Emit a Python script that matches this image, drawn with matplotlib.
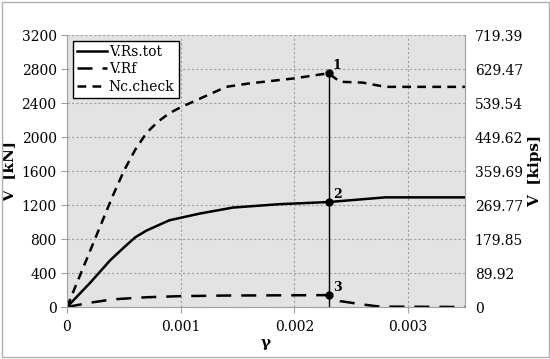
import matplotlib.pyplot as plt
from matplotlib.patches import Rectangle

# data
gam_nc = [0, 0.0002, 0.0004, 0.0005, 0.0006, 0.0007, 0.0008, 0.0009, 0.001, 0.0012,
          0.0014, 0.0016, 0.0018, 0.002, 0.0023, 0.00235, 0.0024, 0.0026, 0.0028, 0.0035]
v_nc = [0, 650, 1300, 1600, 1850, 2050, 2180, 2280, 2350, 2470,
        2590, 2630, 2660, 2690, 2750, 2700, 2650, 2640, 2590, 2590]

gam_rs = [0, 0.0002, 0.00038, 0.0005, 0.0006, 0.0007, 0.0009, 0.00117, 0.00146,
          0.00187, 0.0023, 0.0028, 0.0035]
v_rs = [0, 280, 550, 700, 820, 900, 1020, 1100, 1170, 1210, 1235, 1290, 1290]

gam_rf = [0, 0.0002, 0.0004, 0.0007, 0.001, 0.0014, 0.0023, 0.0024, 0.0026, 0.00275, 0.0035]
v_rf = [0, 50, 90, 115, 128, 135, 140, 70, 30, 5, 0]

pts_x = [0.0023, 0.0023, 0.0023]
pts_y = [2750, 1235, 140]
pts_lab = ['1', '2', '3']

kn_to_kips = 0.224809
yticks = [0, 400, 800, 1200, 1600, 2000, 2400, 2800, 3200]
xticks = [0, 0.001, 0.002, 0.003]

plt.rcParams['font.family'] = ['DejaVu Serif']
fig = plt.figure(figsize=(5.5, 3.59), dpi=100)
fig.patches.append(Rectangle((0.004, 0.006), 0.994, 0.988, transform=fig.transFigure,
                             fill=False, edgecolor='#b0b0b0', linewidth=1))
ax = fig.add_axes([0.1218, 0.1448, 0.7236, 0.7577])
ax.set_facecolor('#e3e3e3')

ax.plot(gam_rs, v_rs, color='black', lw=1.8, label='V.Rs.tot')
ax.plot(gam_rf, v_rf, color='black', lw=1.8, dashes=(6, 4), label='V.Rf')
ax.plot(gam_nc, v_nc, color='black', lw=1.8, dashes=(3.5, 2.5), label='Nc.check')
ax.plot([pts_x[0], pts_x[0]], [0, pts_y[0]], color='black', lw=1)
ax.plot(pts_x, pts_y, 'o', color='black', ms=5)
for x, y, s in zip(pts_x, pts_y, pts_lab):
    ax.annotate(s, (x, y), xytext=(3, 1), textcoords='offset points',
                fontsize=9, fontweight='bold', va='bottom')

ax.set_xlim(0, 0.0035)
ax.set_ylim(0, 3200)
ax.set_xticks(xticks)
ax.set_xticklabels(['0', '0.001', '0.002', '0.003'])
ax.set_yticks(yticks)
ax.grid(True, color='#a0a0a0', linestyle=(0, (2, 2)), lw=0.8)
ax.set_axisbelow(True)
for sp in ax.spines.values():
    sp.set_color('#a0a0a0')
ax.spines['top'].set_visible(False)
ax.tick_params(labelsize=10, length=4, color='#a0a0a0', direction='out')
ax.tick_params(axis='x', pad=5)
ax.set_xlabel('γ', fontsize=11, fontweight='bold', labelpad=2)
ax.set_ylabel('V  [kN]', fontsize=11, fontweight='bold', labelpad=4)

ax2 = ax.twinx()
ax2.set_ylim(0, 3200 * kn_to_kips)
rt = [t * kn_to_kips for t in yticks]
ax2.set_yticks(rt)
ax2.set_yticklabels(['0'] + ['%.2f' % t for t in rt[1:]])
ax2.tick_params(labelsize=10, length=0, pad=7)
for sp in ax2.spines.values():
    sp.set_visible(False)
ax2.set_ylabel('V  [kips]', fontsize=11, fontweight='bold', labelpad=4)

leg = ax.legend(loc='upper left', fontsize=10, handlelength=2.2, handletextpad=0.1,
                borderpad=0.3, labelspacing=0.25, fancybox=False, framealpha=1,
                borderaxespad=0.4)
leg.get_frame().set_edgecolor('black')
leg.get_frame().set_linewidth(1)

fig.savefig('out.png', dpi=100)
